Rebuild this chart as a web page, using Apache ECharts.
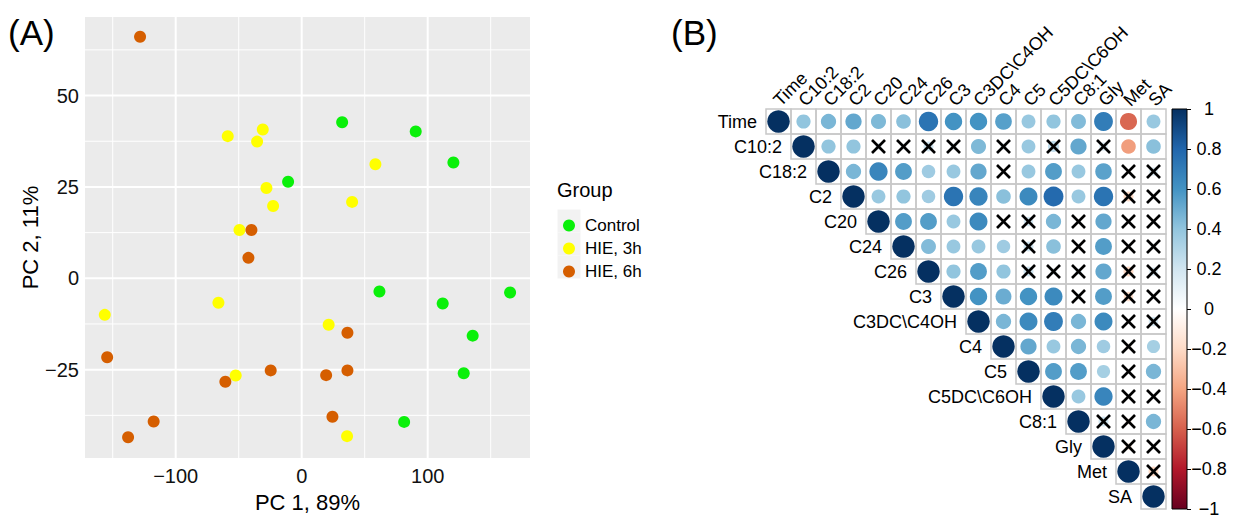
<!DOCTYPE html>
<html>
<head>
<meta charset="utf-8">
<script src="https://cdn.jsdelivr.net/npm/echarts@6/dist/echarts.min.js"></script>
<style>
  html, body { margin: 0; padding: 0; background: #fff; }
  #chart { width: 1237px; height: 518px; }
</style>
</head>
<body>
<div id="chart"></div>
<script>
// ---- PCA scores (PC1, PC2) per group ----
const groupNames = ['Control', 'HIE, 3h', 'HIE, 6h'];
const groupColors = ['#0AF00A', '#FFFF00', '#D55E00'];
const pcaControl = [[-10.8, 26.4], [32.1, 42.7], [90.5, 40.2], [120.4, 31.7], [61.7, -3.6], [111.9, -6.9], [165.4, -3.9], [135.7, -15.7], [128.6, -26], [81.3, -39.3]];
const pcaHIE3h = [[-58.7, 38.9], [-30.9, 40.7], [-35.4, 37.4], [-28, 24.7], [-22.7, 19.8], [-49.4, 13.2], [-66.1, -6.7], [-156.3, -10], [-52.4, -26.6], [58.5, 31.2], [40, 20.9], [21.4, -12.7], [36, -43.2]];
const pcaHIE6h = [[-128.3, 66.1], [-39.9, 13.2], [-42.3, 5.6], [-154.4, -21.6], [-24.6, -25.2], [-60.6, -28.3], [-117.5, -39.2], [-137.8, -43.5], [36.3, -14.9], [36.3, -25.2], [19.4, -26.5], [24.4, -37.9]];
const pcaX = { min: -172, max: 181.2 };
const pcaY = { min: -49.2, max: 71.5 };
const xMajor = [-100, 0, 100];
const xMinor = [-150, -50, 50, 150];
const yMajor = [-25, 0, 25, 50];
const yMinor = [-37.5, -12.5, 12.5, 37.5, 62.5];

// ---- correlation matrix (upper triangle, row i holds columns i+1..n-1) ----
const vars = ['Time', 'C10:2', 'C18:2', 'C2', 'C20', 'C24', 'C26', 'C3', 'C3DC\\C4OH', 'C4', 'C5', 'C5DC\\C6OH', 'C8:1', 'Gly', 'Met', 'SA'];
const corrRows = [
  [0.4, 0.46, 0.52, 0.45, 0.42, 0.74, 0.6, 0.6, 0.55, 0.38, 0.4, 0.44, 0.7, -0.58, 0.38],
  [0.4, 0.4, 0.1, 0.08, 0.2, 0.1, 0.45, 0.1, 0.38, 0.25, 0.52, 0.15, -0.42, 0.42],
  [0.46, 0.66, 0.56, 0.36, 0.38, 0.52, 0.05, 0.38, 0.56, 0.38, 0.54, -0.05, 0.15],
  [0.38, 0.4, 0.36, 0.74, 0.66, 0.42, 0.64, 0.78, 0.38, 0.74, -0.2, 0.05],
  [0.56, 0.56, 0.38, 0.64, 0.05, 0.18, 0.46, 0.05, 0.52, 0.02, 0.05],
  [0.44, 0.38, 0.38, 0.36, 0.2, 0.42, 0.05, 0.56, 0.05, 0.08],
  [0.4, 0.56, 0.4, 0.2, 0.1, 0.1, 0.52, -0.2, 0.15],
  [0.6, 0.5, 0.6, 0.64, 0.08, 0.56, -0.18, 0.05],
  [0.46, 0.64, 0.7, 0.46, 0.64, 0.02, 0.18],
  [0.52, 0.38, 0.46, 0.36, -0.08, 0.34],
  [0.56, 0.56, 0.34, 0.02, 0.46],
  [0.38, 0.66, 0.02, 0.05],
  [0.2, -0.08, 0.46],
  [-0.1, 0.05],
  [-0.2],
  []
];
// 1 = not significant (drawn with a cross)
const insigRows = [
  [0, 0, 0, 0, 0, 0, 0, 0, 0, 0, 0, 0, 0, 0, 0],
  [0, 0, 1, 1, 1, 1, 0, 1, 0, 1, 0, 1, 0, 0],
  [0, 0, 0, 0, 0, 0, 1, 0, 0, 0, 0, 1, 1],
  [0, 0, 0, 0, 0, 0, 0, 0, 0, 0, 1, 1],
  [0, 0, 0, 0, 1, 1, 0, 1, 0, 1, 1],
  [0, 0, 0, 0, 1, 0, 1, 0, 1, 1],
  [0, 0, 0, 1, 1, 1, 0, 1, 1],
  [0, 0, 0, 0, 1, 0, 1, 1],
  [0, 0, 0, 0, 0, 1, 1],
  [0, 0, 0, 0, 1, 0],
  [0, 0, 0, 1, 0],
  [0, 0, 1, 1],
  [1, 1, 0],
  [1, 1],
  [1],
  []
];
const rdbu = ['#67001F', '#B2182B', '#D6604D', '#F4A582', '#FDDBC7', '#FFFFFF', '#D1E5F0', '#92C5DE', '#4393C3', '#2166AC', '#053061'];

const FONT = 'Liberation Sans, Arial, Helvetica, sans-serif';

// cells: [col, row, r, insignificant]
const cells = [];
vars.forEach((_, i) => {
  cells.push([i, i, 1, 0]);
  corrRows[i].forEach((r, k) => cells.push([i + 1 + k, i, r, insigRows[i][k]]));
});

const gridLineItems = [];
xMajor.forEach(v => gridLineItems.push(['x', v, 1]));
xMinor.forEach(v => gridLineItems.push(['x', v, 0]));
yMajor.forEach(v => gridLineItems.push(['y', v, 1]));
yMinor.forEach(v => gridLineItems.push(['y', v, 0]));

const minusSign = s => s.replace('-', '\u2212');

const chart = echarts.init(document.getElementById('chart'), null, { renderer: 'svg' });

const option = {
  backgroundColor: '#ffffff',
  animation: false,
  textStyle: { fontFamily: FONT },
  grid: [
    { left: 85, top: 17, width: 445, height: 444, show: true, backgroundColor: '#EBEBEB', borderWidth: 0 },
    { left: 766, top: 109, width: 400, height: 400 },
    { left: 1172, top: 109, width: 15, height: 400 }
  ],
  xAxis: [
    {
      gridIndex: 0, type: 'value', min: pcaX.min, max: pcaX.max,
      name: 'PC 1, 89%', nameLocation: 'middle', nameGap: 28,
      nameTextStyle: { fontSize: 22, color: '#000', fontFamily: FONT },
      axisLine: { show: false },
      axisTick: { show: true, length: 4, lineStyle: { color: '#333', width: 1 }, customValues: xMajor },
      axisLabel: { fontSize: 20, color: '#111', margin: 8, customValues: xMajor,
        formatter: v => minusSign(String(v)) },
      splitLine: { show: false }
    },
    { gridIndex: 1, type: 'category', data: vars, show: false },
    { gridIndex: 2, type: 'category', data: [''], show: false }
  ],
  yAxis: [
    {
      gridIndex: 0, type: 'value', min: pcaY.min, max: pcaY.max,
      name: 'PC 2, 11%', nameLocation: 'middle', nameGap: 37, nameRotate: 90,
      nameTextStyle: { fontSize: 22, color: '#000', fontFamily: FONT },
      axisLine: { show: false },
      axisTick: { show: true, length: 4, lineStyle: { color: '#333', width: 1 }, customValues: yMajor },
      axisLabel: { fontSize: 20, color: '#111', margin: 6, customValues: yMajor,
        formatter: v => minusSign(String(v)) },
      splitLine: { show: false }
    },
    { gridIndex: 1, type: 'category', data: vars, inverse: true, show: false },
    {
      gridIndex: 2, type: 'value', min: -1, max: 1, interval: 0.2, position: 'right',
      axisLine: { show: false },
      axisTick: { show: true, length: 4, lineStyle: { color: '#000', width: 1 } },
      splitLine: { show: false },
      axisLabel: {
        fontSize: 18, color: '#000', margin: 22, align: 'center',
        formatter: v => minusSign(String(parseFloat(v.toFixed(1))))
      }
    }
  ],
  visualMap: {
    type: 'continuous', show: false, min: -1, max: 1, dimension: 2,
    seriesIndex: 4, inRange: { color: rdbu }
  },
  legend: {
    data: groupNames, orient: 'vertical', left: 558, top: 212,
    icon: 'circle', itemWidth: 22, itemHeight: 12, itemGap: 6,
    textStyle: { fontSize: 17, color: '#000', fontFamily: FONT },
    z: 5
  },
  graphic: [
    { type: 'text', left: 8, top: 15, style: { text: '(A)', fill: '#000', font: '35px ' + FONT } },
    { type: 'text', left: 671, top: 15, style: { text: '(B)', fill: '#000', font: '35px ' + FONT } },
    { type: 'text', left: 557, top: 180, style: { text: 'Group', fill: '#000', font: '20px ' + FONT } },
    { type: 'rect', z: 1, shape: { x: 557.5, y: 209.5, width: 23, height: 23 }, style: { fill: '#F2F2F2' } },
    { type: 'rect', z: 1, shape: { x: 557.5, y: 232.5, width: 23, height: 23 }, style: { fill: '#F2F2F2' } },
    { type: 'rect', z: 1, shape: { x: 557.5, y: 255.5, width: 23, height: 23 }, style: { fill: '#F2F2F2' } }
  ],
  series: [
    // panel grid lines
    {
      type: 'custom', xAxisIndex: 0, yAxisIndex: 0, z: 1, silent: true, clip: false,
      data: gridLineItems.map((g, k) => [k]),
      renderItem: (params, api) => {
        const g = gridLineItems[params.dataIndex];
        const cs = params.coordSys;
        const w = g[2] ? 2 : 1;
        if (g[0] === 'x') {
          const px = api.coord([g[1], pcaY.min])[0];
          return { type: 'line', shape: { x1: px, y1: cs.y, x2: px, y2: cs.y + cs.height },
            style: { stroke: '#FFFFFF', lineWidth: w } };
        }
        const py = api.coord([pcaX.min, g[1]])[1];
        return { type: 'line', shape: { x1: cs.x, y1: py, x2: cs.x + cs.width, y2: py },
          style: { stroke: '#FFFFFF', lineWidth: w } };
      }
    },
    { name: groupNames[0], type: 'scatter', xAxisIndex: 0, yAxisIndex: 0, z: 3, symbolSize: 12,
      itemStyle: { color: groupColors[0], opacity: 1 }, data: pcaControl },
    { name: groupNames[1], type: 'scatter', xAxisIndex: 0, yAxisIndex: 0, z: 3, symbolSize: 12,
      itemStyle: { color: groupColors[1], opacity: 1 }, data: pcaHIE3h },
    { name: groupNames[2], type: 'scatter', xAxisIndex: 0, yAxisIndex: 0, z: 3, symbolSize: 12,
      itemStyle: { color: groupColors[2], opacity: 1 }, data: pcaHIE6h },
    // correlation cells: border, circle (area ~ |r|), cross when not significant, labels
    {
      type: 'custom', xAxisIndex: 1, yAxisIndex: 1, clip: false, silent: true,
      data: cells,
      renderItem: (params, api) => {
        const col = api.value(0), row = api.value(1), r = api.value(2), ins = api.value(3);
        const c = api.coord([col, row]);
        const s = api.size([1, 1]);
        const w = s[0], h = s[1];
        const rMax = w * 0.45;
        const children = [
          { type: 'rect', shape: { x: c[0] - w / 2, y: c[1] - h / 2, width: w, height: h },
            style: { fill: null, stroke: '#C8C8C8', lineWidth: 1.5 } },
          { type: 'circle', shape: { cx: c[0], cy: c[1], r: rMax * Math.sqrt(Math.abs(r)) },
            style: { fill: api.visual('color') } }
        ];
        if (ins) {
          const d = 6.5;
          children.push({ type: 'line', shape: { x1: c[0] - d, y1: c[1] - d, x2: c[0] + d, y2: c[1] + d },
            style: { stroke: '#000', lineWidth: 2.6 } });
          children.push({ type: 'line', shape: { x1: c[0] - d, y1: c[1] + d, x2: c[0] + d, y2: c[1] - d },
            style: { stroke: '#000', lineWidth: 2.6 } });
        }
        if (col === row) {
          // row label, left of the diagonal cell
          children.push({ type: 'text', style: { text: vars[row], x: c[0] - w / 2 - 9, y: c[1],
            align: 'right', verticalAlign: 'middle', fill: '#000', font: '18px ' + FONT } });
          // column label, rotated above the top row
          const topY = api.coord([col, 0])[1] - h / 2;
          children.push({ type: 'text', x: c[0] - 2, y: topY - 6, rotation: Math.PI / 4,
            style: { text: vars[col], x: 0, y: 0, align: 'left', verticalAlign: 'middle',
              fill: '#000', font: '18px ' + FONT } });
        }
        return { type: 'group', children };
      }
    },
    // colour bar
    {
      type: 'custom', xAxisIndex: 2, yAxisIndex: 2, clip: false, silent: true,
      data: [[0, -1, 1]],
      renderItem: (params, api) => {
        const top = api.coord([0, api.value(2)]);
        const bottom = api.coord([0, api.value(1)]);
        const w = api.size([1, 0])[0];
        const stops = rdbu.slice().reverse().map((c, k) => ({ offset: k / (rdbu.length - 1), color: c }));
        return { type: 'rect', shape: { x: top[0] - w / 2, y: top[1], width: w, height: bottom[1] - top[1] },
          style: { fill: new echarts.graphic.LinearGradient(0, 0, 0, 1, stops), stroke: '#000', lineWidth: 1 } };
      }
    }
  ]
};
chart.setOption(option);
</script>
</body>
</html>
